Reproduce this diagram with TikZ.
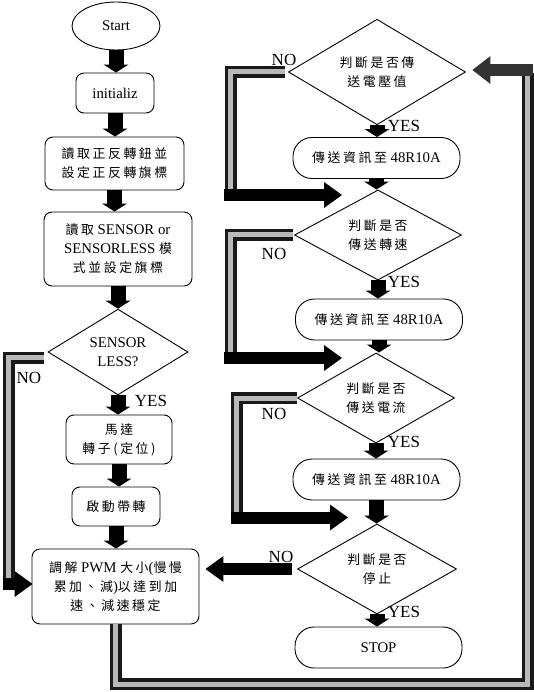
\documentclass[tikz,border=0pt]{standalone}
\usepackage{fontspec}
\setmainfont{Liberation Serif}
\newfontfamily\cjk[LetterSpace=20,Scale=0.87]{Noto Sans CJK TC}
\usetikzlibrary{shapes.geometric,arrows.meta}
\newcommand\zh[1]{{\cjk #1}}
\begin{document}
\begin{tikzpicture}[x=1pt,y=-1pt,
  every node/.style={font=\fontsize{14.8}{19}\selectfont, align=center, inner sep=0pt},
  box/.style={draw, line width=0.9pt, rounded corners=8pt},
  pill/.style={draw, line width=0.9pt, rounded corners=19pt, minimum width=167pt, minimum height=41pt},
  dec/.style={draw, line width=0.9pt, diamond},
  lbl/.style={font=\fontsize{17}{17}\selectfont},
  flow/.style={draw=black, line width=15pt, -{Triangle[width=25pt,length=8pt,line width=0pt]}},
  side/.style={draw=black, line width=12pt, -{Triangle[width=26pt,length=18pt,line width=0pt]}},
  loopbar/.style={draw=black!90, line width=12pt, line join=miter, postaction={draw=gray!55, line width=5pt}},
  back/.style={draw=black!80, line width=12pt, -{Triangle[width=28pt,length=18pt,line width=0pt]}}
]
\useasboundingbox (0,0) rectangle (534,692);

% left column
\node[draw, line width=0.9pt, ellipse, minimum width=88pt, minimum height=48pt] (start) at (116,26) {Start};
\node[box, minimum width=78pt, minimum height=40pt] (init) at (115,93) {initializ};
\node[box, minimum width=139pt, minimum height=53pt] (b3) at (114.5,163.5) {\zh{讀取正反轉鈕並}\\\zh{設定正反轉旗標}};
\node[box, minimum width=148pt, minimum height=74pt] (b4) at (118,249) {\zh{讀取} SENSOR or\\SENSORLESS \zh{模}\\\zh{式並設定旗標}};
\node[dec, minimum width=140pt, minimum height=82pt] (d0) at (118,352) {SENSOR\\LESS?};
\node[box, minimum width=106pt, minimum height=49pt] (motor) at (119,439.5) {\zh{馬達}\\\zh{轉子(定位)}};
\node[box, minimum width=88pt, minimum height=39pt] (spin) at (116,506.5) {\zh{啟動帶轉}};
\node[box, minimum width=167pt, minimum height=75pt] (pwm) at (115.5,586.5) {\zh{調解} PWM \zh{大小}(\zh{慢慢}\\\zh{累加、減})\zh{以達到加}\\\zh{速、減速穩定}};

% right column
\node[dec, minimum width=177pt, minimum height=80pt] (d1) at (377,72) {\zh{判斷是否傳}\\\zh{送電壓值}};
\node[pill] (r1) at (376.5,158) {\zh{傳送資訊至} 48R10A};
\node[dec, minimum width=167pt, minimum height=76pt] (d2) at (378,235) {\zh{判斷是否}\\\zh{傳送轉速}};
\node[pill] (r2) at (379,319.5) {\zh{傳送資訊至} 48R10A};
\node[dec, minimum width=157pt, minimum height=70pt] (d3) at (376,398) {\zh{判斷是否}\\\zh{傳送電流}};
\node[pill] (r3) at (376.5,479.5) {\zh{傳送資訊至} 48R10A};
\node[dec, minimum width=159pt, minimum height=70pt] (d4) at (377,569) {\zh{判斷是否}\\\zh{停止}};
\node[pill] (stop) at (378.5,647.5) {STOP};

% flow arrows left
\draw[flow] (start.south) -- (start.south |- init.north);
\draw[flow] (init.south) -- (init.south |- b3.north);
\draw[flow] (b3.south) -- (b3.south |- b4.north);
\draw[flow] (b4.south) -- (b4.south |- d0.north);
\draw[flow] (d0.south) -- (d0.south |- motor.north);
\draw[flow] (motor.south) -- (motor.south |- spin.north);
\draw[flow] (spin.south) -- (spin.south |- pwm.north);

% flow arrows right
\draw[flow] (d1.south) -- (d1.south |- r1.north);
\draw[flow] (r1.south) -- (r1.south |- d2.north);
\draw[flow] (d2.south) -- (d2.south |- r2.north);
\draw[flow] (r2.south) -- (r2.south |- d3.north);
\draw[flow] (d3.south) -- (d3.south |- r3.north);
\draw[flow] (r3.south) -- (r3.south |- d4.north);
\draw[flow] (d4.south) -- (d4.south |- stop.north);

% NO loops right column
\coordinate (j1) at (342,195);
\coordinate (j2) at (342,358);
\coordinate (j3) at (348,517.5);
\draw[loopbar] ([xshift=-3pt]d1.west) -- (230.5,72) -- (230.5,195);
\draw[side] (224,195) -- (j1);
\draw[loopbar] ([xshift=-1pt]d2.west) -- (230.5,235) -- (230.5,358);
\draw[side] (224,358) -- (j2);
\draw[loopbar] (d3.west) -- (236.5,398) -- (236.5,517.5);
\draw[side] (230.5,517.5) -- (j3);

% SENSORLESS NO loop
\coordinate (c0) at (8.5,357.5);
\draw[loopbar] ([xshift=-4pt]d0.west |- c0) -- (c0) -- (8.5,584);
\draw[side] (2.5,584) -- ([xshift=1pt]pwm.west |- 0,584);

% stop NO
\draw[side, shorten <=5pt, shorten >=6pt] (d4.west) -- (d4.west -| pwm.east);

% big return loop
\draw[loopbar] (pwm.south) -- (pwm.south |- 0,684) -- (527.5,684) -- (527.5,73);
\draw[back, shorten >=6.5pt] (533,70) -- (d1.east |- 0,70);

% labels
\node[lbl] at (29,378) {NO};
\node[lbl] at (151,401) {YES};
\node[lbl] at (284,60) {NO};
\node[lbl] at (404,126) {YES};
\node[lbl] at (274,254) {NO};
\node[lbl] at (404,282) {YES};
\node[lbl] at (274,414) {NO};
\node[lbl] at (404,442) {YES};
\node[lbl] at (281,557) {NO};
\node[lbl] at (404,612) {YES};
\end{tikzpicture}
\end{document}
